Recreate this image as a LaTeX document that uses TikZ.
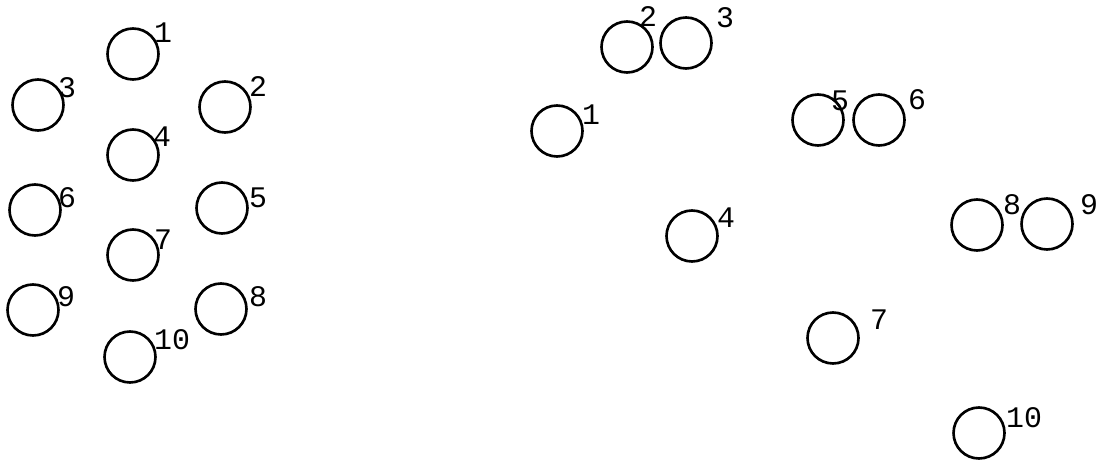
\documentclass[tikz,border=0pt]{standalone}
\usepackage{fontspec}
\setmonofont{Liberation Mono}
\usepackage{tikz}
\usetikzlibrary{positioning}
\tikzstyle{ball} = [circle, draw=black, line width=1.5pt, minimum size=1.02cm, inner sep=0pt]
\tikzstyle{num} = [inner sep=0pt, font=\ttfamily\fontsize{17}{19}\selectfont]

\begin{document}
\begin{tikzpicture}[x=0.02cm, y=-0.02cm]
        \useasboundingbox (0,0) rectangle (1097,462);
        % Left group
        \node (l1) [ball] at (133,54) {};
        \node (l2) [ball] at (225,107) {};
        \node (l3) [ball] at (38,105) {};
        \node (l4) [ball] at (133,155) {};
        \node (l5) [ball] at (222,208) {};
        \node (l6) [ball] at (35,210) {};
        \node (l7) [ball] at (133,255) {};
        \node (l8) [ball] at (221,309) {};
        \node (l9) [ball] at (33,310) {};
        \node (l10) [ball] at (130,357) {};
        \node (nl1) [num] at (163,33) {1};
        \node (nl2) [num] at (258,87) {2};
        \node (nl3) [num] at (67,88) {3};
        \node (nl4) [num] at (162,137) {4};
        \node (nl5) [num] at (258,198) {5};
        \node (nl6) [num] at (67,198) {6};
        \node (nl7) [num] at (163,240) {7};
        \node (nl8) [num] at (258,297) {8};
        \node (nl9) [num] at (66,297) {9};
        \node (nl10) [num] at (172,340) {10};

        % Right group
        \node (r1) [ball] at (557,131) {};
        \node (r2) [ball] at (627,47) {};
        \node (r3) [ball] at (686,43) {};
        \node (r4) [ball] at (692,236) {};
        \node (r5) [ball] at (818,120) {};
        \node (r6) [ball] at (879,120) {};
        \node (r7) [ball] at (833,338) {};
        \node (r8) [ball] at (977,225) {};
        \node (r9) [ball] at (1047,224) {};
        \node (r10) [ball] at (979,433) {};
        \node (nr1) [num] at (591,115) {1};
        \node (nr2) [num] at (648,17) {2};
        \node (nr3) [num] at (725,18) {3};
        \node (nr4) [num] at (726,218) {4};
        \node (nr5) [num] at (840,101) {5};
        \node (nr6) [num] at (917,100) {6};
        \node (nr7) [num] at (879,320) {7};
        \node (nr8) [num] at (1012,205) {8};
        \node (nr9) [num] at (1089,205) {9};
        \node (nr10) [num] at (1024,418) {10};
\end{tikzpicture}
\end{document}
